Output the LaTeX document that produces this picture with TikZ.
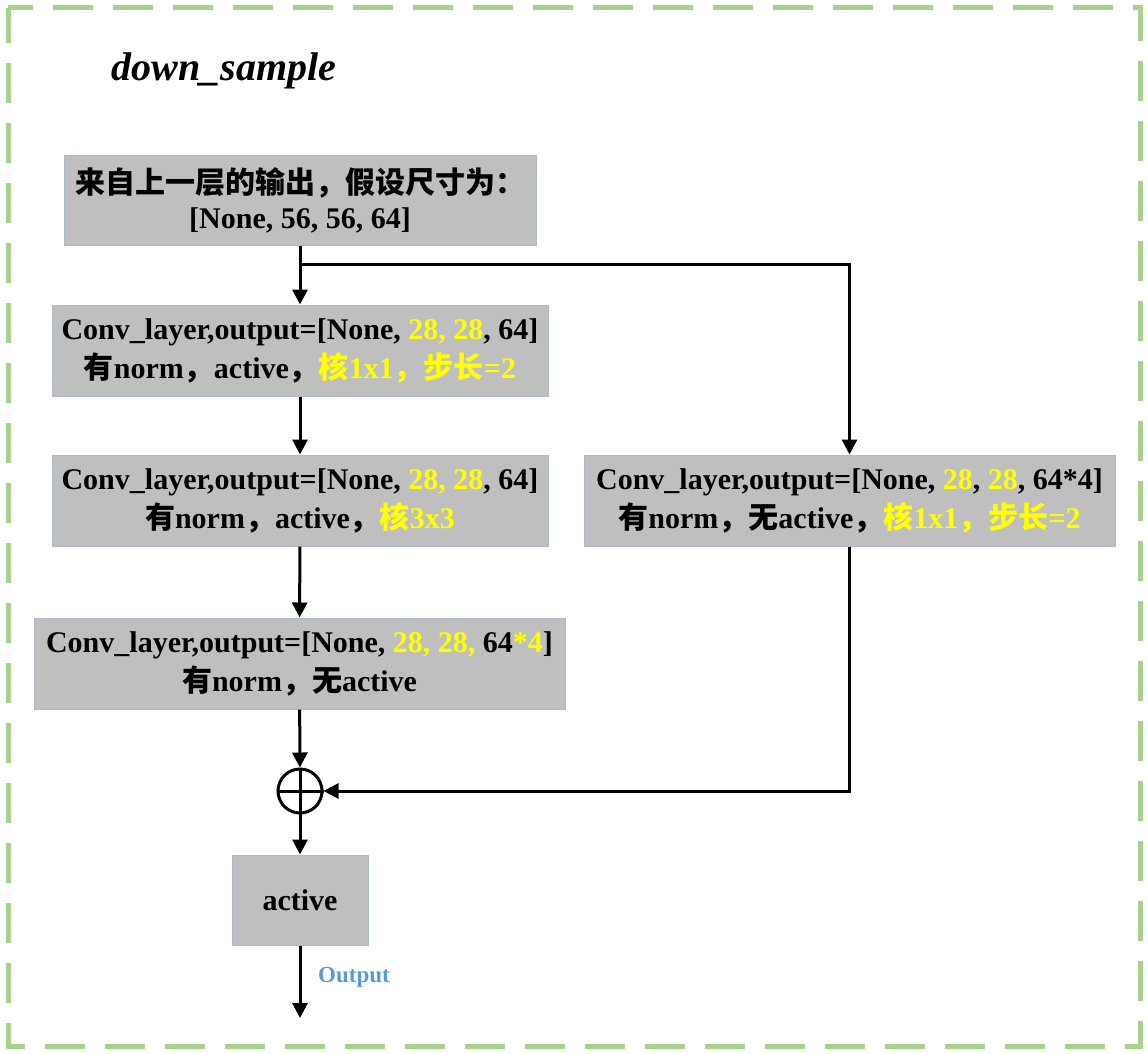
\documentclass[tikz,border=0pt]{standalone}
\usepackage{fontspec}
\setmainfont{Liberation Serif}
\newfontfamily\cjk{Noto Sans CJK SC}
\usetikzlibrary{arrows.meta}
\definecolor{ylw}{RGB}{255,255,0}
\definecolor{boxfill}{RGB}{191,191,191}
\definecolor{boxline}{RGB}{172,186,204}
\definecolor{framegreen}{RGB}{169,209,142}
\definecolor{outblue}{RGB}{91,155,213}
\newcommand{\zh}[1]{{\cjk\bfseries #1}}
\newcommand{\yl}[1]{\textcolor{ylw}{#1}}
\begin{document}
\begin{tikzpicture}[x=1pt,y=-1pt,
  box/.style={draw=boxline,line width=1pt,fill=boxfill,inner sep=0pt,align=center,
    font=\bfseries\fontsize{30}{39}\selectfont},
  conn/.style={line width=3pt,-{Triangle[length=15pt,width=15pt]}},
  plain/.style={line width=3pt}]
\useasboundingbox (0,0) rectangle (1148,1054);
\draw[framegreen,line width=5pt,dash pattern=on 40pt off 20pt,dash phase=5pt] (8,8) rectangle (1140,1046);
\node[font=\bfseries\itshape\fontsize{40}{48}\selectfont,anchor=base west] (title) at (108,81) {down\_sample};
\node[box,minimum width=472,minimum height=90] (in) at (300,200)
  {\zh{来自上一层的输出，假设尺寸为：}\\[-4pt][None, 56, 56, 64]};
\node[box,minimum width=496,minimum height=91] (c1) at (300,350.5)
  {Conv\_layer,output=[None, \yl{28, 28}, 64]\\\zh{有}norm\zh{，}active\zh{，}\yl{\zh{核}1x1\zh{，}\zh{步长}=2}};
\node[box,minimum width=496,minimum height=91] (c2) at (300,500.5)
  {Conv\_layer,output=[None, \yl{28, 28}, 64]\\\zh{有}norm\zh{，}active\zh{，}\yl{\zh{核}3x3}};
\node[box,minimum width=531,minimum height=91] (c3) at (299.5,663.5)
  {Conv\_layer,output=[None, \yl{28, 28,} 64\yl{*4}]\\\zh{有}norm\zh{，无}active};
\node[box,minimum width=531,minimum height=91] (sc) at (849.5,500.5)
  {Conv\_layer,output=[None, \yl{28}, \yl{28}, 64*4]\\\zh{有}norm\zh{，无}active\zh{，}\yl{\zh{核}1x1\zh{，}\zh{步长}=2}};
\node[draw,circle,line width=3pt,minimum size=44pt,inner sep=0pt] (add) at (300,791) {};
\draw[plain] (add.north) -- (add.south) (add.west) -- (add.east);
\node[box,minimum width=136,minimum height=90] (act) at (300,900) {active};
\coordinate (split) at (300,264);
\coordinate (out) at (300,1018);
\node[font=\bfseries\fontsize{23}{27}\selectfont,text=outblue] (lbl) at (354,977) {Output};
\draw[conn] (in) -- (c1);
\draw[conn] (split) -| (sc.north);
\draw[conn] (c1) -- (c2);
\draw[conn] (c2) -- (c3);
\draw[conn] (c3) -- (add);
\draw[conn] (sc.south) |- (add.east);
\draw[conn] (add) -- (act);
\draw[conn] (act) -- (out);
\end{tikzpicture}
\end{document}
